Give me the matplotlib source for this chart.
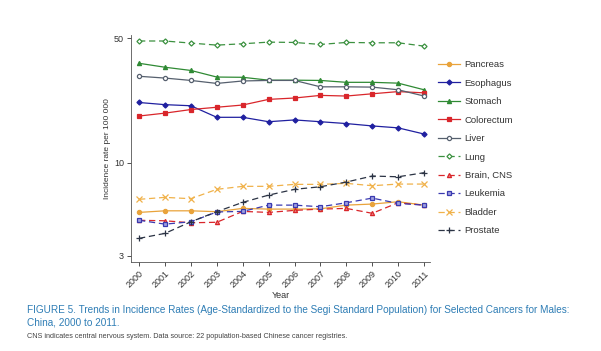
import matplotlib
matplotlib.use("Agg")
import matplotlib.pyplot as plt
from matplotlib import font_manager

years = list(range(2000, 2012))

pancreas   = [5.26, 5.37, 5.37, 5.31, 5.54, 5.49, 5.49, 5.51, 5.78, 5.86, 6.04, 5.78]
esophagus  = [21.8, 21.2, 20.9, 18.0, 18.0, 17.0, 17.4, 17.0, 16.6, 16.1, 15.7, 14.5]
stomach    = [36.2, 34.4, 33.0, 30.3, 30.2, 29.1, 29.1, 29.0, 28.3, 28.3, 28.0, 25.7]
colorectum = [18.3, 19.0, 19.9, 20.5, 21.1, 22.7, 23.1, 23.9, 23.7, 24.4, 25.1, 24.7]
liver      = [30.6, 29.9, 29.0, 27.9, 28.8, 29.0, 29.0, 26.7, 26.7, 26.6, 25.7, 23.7]
lung       = [48.3, 48.3, 47.0, 45.8, 46.6, 47.6, 47.4, 46.2, 47.4, 47.2, 47.2, 45.2]
brain_cns  = [4.75, 4.72, 4.60, 4.63, 5.33, 5.26, 5.40, 5.49, 5.54, 5.20, 5.96, 5.78]
leukemia   = [4.75, 4.52, 4.66, 5.29, 5.33, 5.78, 5.78, 5.66, 5.96, 6.33, 5.91, 5.78]
bladder    = [6.23, 6.39, 6.28, 7.09, 7.37, 7.37, 7.56, 7.56, 7.66, 7.43, 7.59, 7.59]
prostate   = [3.76, 4.01, 4.66, 5.31, 5.99, 6.58, 7.09, 7.33, 7.79, 8.42, 8.34, 8.79]

y_ticks = [3, 10, 50]

names = [f.name for f in font_manager.fontManager.ttflist]
narrow = "Liberation Sans Narrow" if "Liberation Sans Narrow" in names else "Liberation Sans"
plt.rcParams['font.family'] = ['Liberation Sans', 'DejaVu Sans']

fig = plt.figure(figsize=(6.01, 3.51), dpi=100)
ax = fig.add_axes([0.218, 0.2536, 0.4975, 0.6467])

series = [
    ("Pancreas",   pancreas,   "#E9A33B", "-",  "o", "#E9A33B", "#E9A33B"),
    ("Esophagus",  esophagus,  "#2020A0", "-",  "D", "#2020A0", "#2020A0"),
    ("Stomach",    stomach,    "#2F8A34", "-",  "^", "#2F8A34", "#2F8A34"),
    ("Colorectum", colorectum, "#D9262B", "-",  "s", "#D9262B", "#D9262B"),
    ("Liver",      liver,      "#56606E", "-",  "o", "#56606E", "white"),
    ("Lung",       lung,       "#3C9140", "--", "D", "#3C9140", "white"),
    ("Brain, CNS", brain_cns,  "#D9262B", "--", "^", "#D9262B", "#E88080"),
    ("Leukemia",   leukemia,   "#3A3AB0", "--", "s", "#3A3AB0", "#A0A0E0"),
    ("Bladder",    bladder,    "#F0B24A", "--", "x", "#F0B24A", "#F0B24A"),
    ("Prostate",   prostate,   "#2B3344", "--", "+", "#2B3344", "#2B3344"),
]

for name, vals, col, ls, mk, mec, mfc in series:
    ms = 3.0
    if mk in ("x", "+"):
        ms = 3.8
    if mk == "D":
        ms = 2.6
    ax.plot(years, vals, color=col, linestyle=ls, linewidth=0.9,
            marker=mk, markersize=ms, markeredgecolor=mec, markerfacecolor=mfc,
            markeredgewidth=0.9, label=name, dashes=(5, 3) if ls == "--" else (None, None))

ax.set_yscale("log")
ax.set_ylim(2.77, 52.2)
ax.set_xlim(1999.69, 2011.23)
ax.set_yticks(y_ticks)
ax.set_yticklabels([str(t) for t in y_ticks])
ax.yaxis.set_minor_locator(matplotlib.ticker.NullLocator())
ax.set_xticks(years)
ax.set_xticklabels([str(y) for y in years], rotation=45, ha="right", rotation_mode="anchor")
ax.tick_params(axis="both", labelsize=6.5, length=3, width=0.6, colors="#333333", pad=2)
for s in ("top", "right"):
    ax.spines[s].set_visible(False)
for s in ("left", "bottom"):
    ax.spines[s].set_linewidth(0.6)
    ax.spines[s].set_color("#555555")

ax.set_ylabel("Incidence rate per 100 000", fontsize=6, color="#333333", labelpad=2)
ax.set_xlabel("Year", fontsize=6.5, color="#333333", labelpad=1)

leg = ax.legend(loc="upper left", bbox_to_anchor=(1.015, 0.905), frameon=False,
                fontsize=6.8, handlelength=2.3, labelspacing=1.0, handletextpad=0.5,
                borderaxespad=0)
for t in leg.get_texts():
    t.set_color("#333333")

fig.text(0.045, 0.107, "FIGURE 5. Trends in Incidence Rates (Age-Standardized to the Segi Standard Population) for Selected Cancers for Males:",
         fontsize=7.2, color="#2E7DB5", family=[narrow, "DejaVu Sans"])
fig.text(0.045, 0.072, "China, 2000 to 2011.", fontsize=7.2, color="#2E7DB5",
         family=[narrow, "DejaVu Sans"])
fig.text(0.045, 0.038, "CNS indicates central nervous system. Data source: 22 population-based Chinese cancer registries.",
         fontsize=5.2, color="#444444", family=[narrow, "DejaVu Sans"])

fig.savefig("out.png", dpi=100)
